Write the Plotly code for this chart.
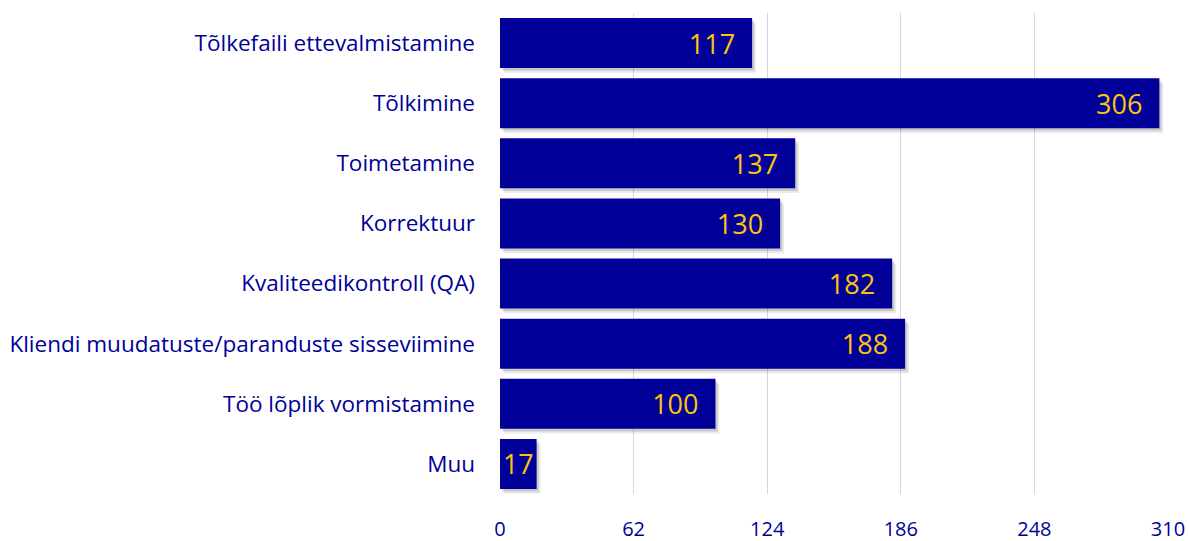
import plotly.graph_objects as go

categories = [
    "Tõlkefaili ettevalmistamine",
    "Tõlkimine",
    "Toimetamine",
    "Korrektuur",
    "Kvaliteedikontroll (QA)",
    "Kliendi muudatuste/paranduste sisseviimine",
    "Töö lõplik vormistamine",
    "Muu",
]
values = [117, 306, 137, 130, 182, 188, 100, 17]
tick_vals = [0, 62, 124, 186, 248, 310]

bar_color = "#000099"
label_color = "#FFC20E"
bar_w = 0.83

# pad labels away from the bar end, except on the tiny bar
labels = [(str(v) + "\u00a0\u00a0") if v > 40 else str(v) for v in values]

fig = go.Figure()

# soft drop shadow under each bar (two faint layers to fake a blur)
fig.add_trace(go.Bar(
    y=categories, x=values, orientation="h",
    base=1.8, width=bar_w, offset=-bar_w / 2 + 0.08,
    marker=dict(color="rgba(0,0,0,0.08)", line=dict(width=0)),
    hoverinfo="skip", showlegend=False,
))
fig.add_trace(go.Bar(
    y=categories, x=values, orientation="h",
    base=1.0, width=bar_w, offset=-bar_w / 2 + 0.045,
    marker=dict(color="rgba(0,0,0,0.14)", line=dict(width=0)),
    hoverinfo="skip", showlegend=False,
))

fig.add_trace(go.Bar(
    y=categories, x=values, orientation="h",
    width=bar_w, offset=-bar_w / 2,
    marker=dict(color=bar_color, line=dict(width=0)),
    text=labels,
    textposition="inside", insidetextanchor="end",
    textfont=dict(color=label_color, size=27, family="Open Sans"),
    cliponaxis=False, showlegend=False,
))

fig.update_layout(
    width=1189, height=541,
    barmode="overlay",
    margin=dict(l=500, r=21, t=13, b=47, autoexpand=False),
    plot_bgcolor="white", paper_bgcolor="white",
    font=dict(family="Open Sans", color="#000099", size=20),
)
fig.update_xaxes(
    range=[0, 310], tickvals=tick_vals, automargin=False,
    showgrid=True, gridcolor="#D4D4EE", gridwidth=1,
    zeroline=False, showline=False,
    tickfont=dict(size=20, color="#000099"), ticks="",
    ticklabelstandoff=21,
)
fig.update_yaxes(
    autorange="reversed", showgrid=False, zeroline=False, automargin=False,
    tickfont=dict(size=22.5, color="#000099"), ticks="",
    ticklabelstandoff=24,
)

# drop the default 8px body margin so the figure fills the window
fig.write_html("out.html", config={"displayModeBar": False},
               post_script="document.body.style.margin='0';")
